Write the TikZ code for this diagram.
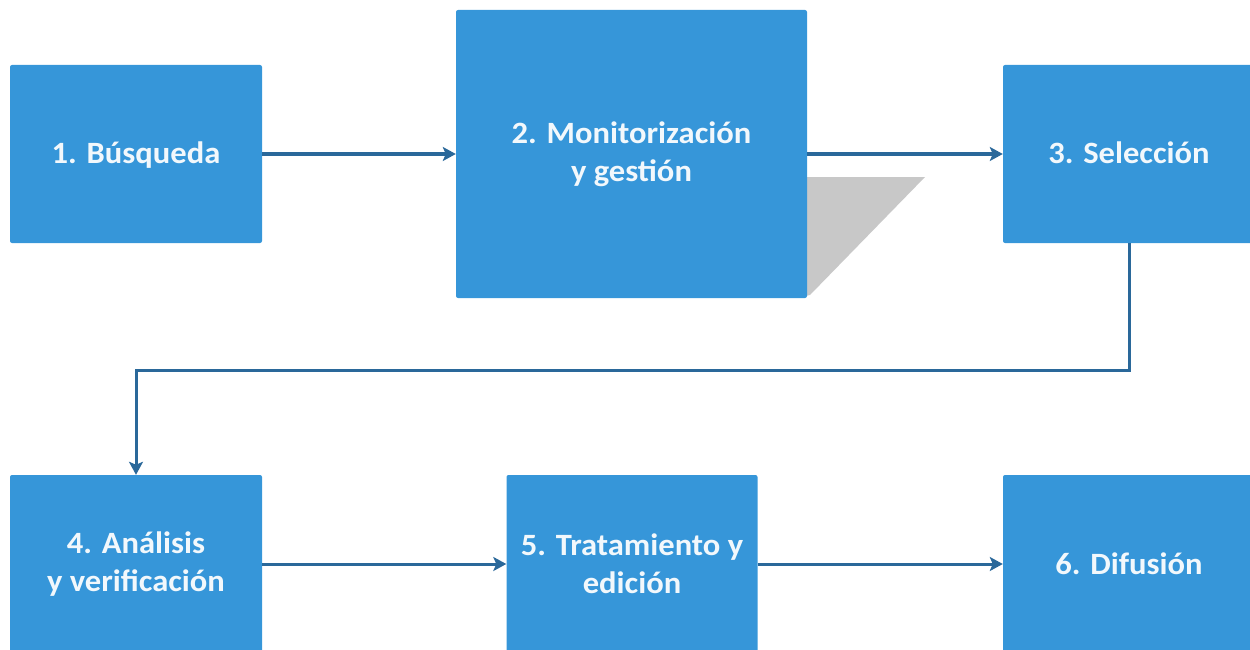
\documentclass[tikz,border=0pt]{standalone}
\usepackage{fontspec}
\setmainfont{Carlito}[FakeStretch=1.05]
\usetikzlibrary{arrows.meta}
\definecolor{boxblue}{RGB}{54,150,217}
\definecolor{linkblue}{RGB}{42,104,154}
\definecolor{shadowgray}{RGB}{200,200,200}
\definecolor{txtwhite}{RGB}{242,248,252}
\tikzset{
  stepbox/.style={rectangle, rounded corners=2pt, fill=boxblue, draw=none,
    text=txtwhite, align=center, inner sep=0pt,
    font=\bfseries\fontsize{31}{38}\selectfont},
  oneline/.style={text height=28pt, text depth=8pt},
  link/.style={draw=linkblue, line width=3pt,
    -{Stealth[length=13pt,width=14pt,inset=3pt]}}
}
\begin{document}
\begin{tikzpicture}[x=1pt,y=-1pt]
\useasboundingbox (0,0) rectangle (1250,650);
\clip (0,0) rectangle (1250,650);
% shadow behind box 2
\fill[shadowgray] (800,177) -- (925,177) -- (810,295) -- (800,297) -- cycle;
\node[stepbox, oneline, minimum width=252pt, minimum height=178pt] (b1) at (136,154) {1. Búsqueda};
\node[stepbox, minimum width=351pt, minimum height=288pt] (b2) at (631.5,154) {2. Monitorización\\y gestión};
\node[stepbox, oneline, minimum width=252pt, minimum height=178pt] (b3) at (1129,154) {3. Selección};
\node[stepbox, minimum width=252pt, minimum height=178pt] (b4) at (136,564) {4. Análisis\\y verificación};
\node[stepbox, minimum width=251pt, minimum height=178pt] (b5) at (632,564) {5. Tratamiento y\\edición};
\node[stepbox, oneline, minimum width=252pt, minimum height=178pt] (b6) at (1129,564) {6. Difusión};
\coordinate (mid) at (0,370);
\draw[link] (b1.east) -- (b2.west);
\draw[link] (b2.east) -- (b3.west);
\draw[link] (b3.south) -- (b3.south |- mid) -- (b4.north |- mid) -- (b4.north);
\draw[link] (b4.east) -- (b5.west);
\draw[link] (b5.east) -- (b6.west);
\end{tikzpicture}
\end{document}
